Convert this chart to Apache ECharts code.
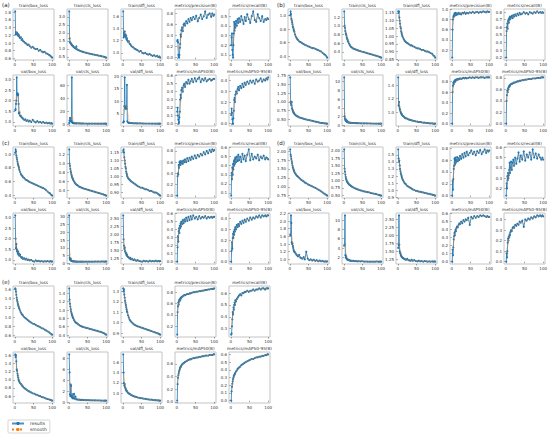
<!DOCTYPE html>
<html>
<head>
<meta charset="utf-8">
<script src="https://cdn.jsdelivr.net/npm/echarts@6/dist/echarts.min.js"></script>
<style>
  html, body { margin: 0; padding: 0; background: #fff; }
  #main { width: 550px; height: 437px; }
</style>
</head>
<body>
<div id="main"></div>
<script>
// epochs that were sampled off the picture (denser at the start)
const EPOCHS = [1,2,3,4,5,6,7,8,9,10,11,12,14,16,18,20,22,25,28,31,34,37,40,44,48,52,56,60,64,68,72,76,80,84,88,92,95,98,100];

const TITLES = ['train/box_loss','train/cls_loss','train/dfl_loss','metrics/precision(B)','metrics/recall(B)',
                'val/box_loss','val/cls_loss','val/dfl_loss','metrics/mAP50(B)','metrics/mAP50-95(B)'];

// ---- (a)
const a_train_box = [1.82,1.22,1.28,1.26,1.24,1.27,1.22,1.20,1.23,1.18,1.20,1.16, 1.13,1.15,1.08,1.10,1.05, 1.03,1.00,0.98,0.95,0.96,0.92, 0.88,0.90,0.86,0.84,0.85,0.80,0.82,0.78,0.76,0.77,0.73,0.72,0.69, 0.67,0.64,0.62];
const a_train_cls = [3.35,1.65,1.42,1.38,1.35,1.32,1.28,1.25,1.22,1.20,1.17,1.15, 1.10,1.06,1.02,1.15,0.97, 0.93,0.90,0.87,0.84,0.82,0.80, 0.77,0.75,0.72,0.70,0.68,0.66,0.64,0.62,0.60,0.58,0.56,0.54,0.52, 0.50,0.47,0.45];
const a_train_dfl = [1.68,1.25,1.33,1.28,1.35,1.27,1.30,1.25,1.28,1.22,1.24,1.20, 1.18,1.19,1.15,1.14,1.12, 1.10,1.09,1.07,1.06,1.05,1.04, 1.02,1.03,1.00,0.99,1.00,0.98,0.97,0.98,0.96,0.95,0.96,0.94,0.95, 0.93,0.94,0.92];
const a_precision = [0.30,0.32,0.28,0.05,0.02,0.00,0.05,0.18,0.25,0.42,0.38,0.50, 0.55,0.48,0.60,0.62,0.58, 0.66,0.62,0.70,0.65,0.72,0.68, 0.74,0.70,0.76,0.66,0.72,0.78,0.70,0.75,0.84,0.72,0.78,0.80,0.74, 0.80,0.76,0.78];
const a_recall = [0.20,0.28,0.32,0.15,0.10,0.07,0.20,0.32,0.44,0.35,0.42,0.38, 0.45,0.40,0.47,0.43,0.48, 0.44,0.50,0.46,0.42,0.49,0.45, 0.52,0.47,0.43,0.50,0.55,0.46,0.44,0.52,0.48,0.45,0.50,0.44,0.47, 0.46,0.48,0.47];
const a_val_box = [1.55,1.60,1.85,2.00,3.10,2.30,2.35,2.25,2.30,1.85,1.40,1.45, 1.30,1.28,1.22,1.20,1.15, 1.10,1.12,1.05,1.08,1.02,1.06, 1.00,1.10,1.02,0.98,1.04,0.98,1.00,0.96,1.00,0.95,0.97,0.94,0.96, 0.93,0.94,0.92];
const a_val_cls = [2,6,10,9,5,4,5,73,3,2.5,2,1.8, 1.6,1.5,1.5,1.4,1.4, 1.3,1.3,1.2,1.2,1.2,1.1, 1.1,1.1,1.0,1.0,1.0,1.0,1.0,0.9,0.9,0.9,0.9,0.9,0.9, 0.9,0.9,0.9];
const a_val_dfl = [1.5,1.8,2.0,8,19.5,7.5,7,7.5,8,7,16.5,2, 1.5,1.4,1.35,1.3,1.3, 1.25,1.2,1.2,1.2,1.18,1.15, 1.15,1.15,1.12,1.12,1.1,1.1,1.1,1.1,1.08,1.08,1.08,1.06,1.06, 1.05,1.05,1.05];
const a_map50 = [0.15,0.20,0.10,0.05,0.00,0.02,0.08,0.15,0.30,0.36,0.32,0.42, 0.45,0.40,0.48,0.50,0.46, 0.52,0.50,0.55,0.50,0.53,0.56, 0.52,0.57,0.53,0.56,0.58,0.52,0.56,0.54,0.57,0.53,0.55,0.56,0.54, 0.55,0.56,0.56];
const a_map5095 = [0.08,0.14,0.10,0.04,0.00,0.00,0.05,0.12,0.22,0.24,0.20,0.27, 0.30,0.28,0.32,0.34,0.31, 0.35,0.33,0.37,0.34,0.38,0.36, 0.39,0.37,0.40,0.38,0.40,0.37,0.41,0.39,0.40,0.42,0.39,0.41,0.40, 0.42,0.41,0.43];
const a_ticks = [['0.6','0.8','1.0','1.2','1.4','1.6','1.8'], ['0.5','1.0','1.5','2.0','2.5','3.0'], ['1.0','1.2','1.4','1.6'],
  ['0.0','0.2','0.4','0.6','0.8'], ['0.1','0.2','0.3','0.4','0.5'], ['1.0','1.5','2.0','2.5','3.0'], ['0','20','40','60'],
  ['5','10','15','20'], ['0.0','0.1','0.2','0.3','0.4','0.5','0.6'], ['0.0','0.1','0.2','0.3','0.4']];

// ---- (b)
const b_train_box = [1.00,1.06,1.02,0.95,0.93,0.90,0.87,0.84,0.82,0.80,0.78,0.76, 0.72,0.69,0.67,0.65,0.64, 0.62,0.61,0.60,0.59,0.58,0.57, 0.56,0.55,0.54,0.53,0.52,0.52,0.51,0.50,0.49,0.48,0.47,0.45,0.43, 0.42,0.40,0.38];
const b_train_cls = [1.33,1.00,0.95,0.88,0.83,0.80,0.77,0.73,0.70,0.68,0.65,0.63, 0.59,0.56,0.53,0.51,0.50, 0.48,0.47,0.46,0.45,0.44,0.43, 0.42,0.41,0.40,0.39,0.38,0.37,0.36,0.35,0.34,0.33,0.32,0.31,0.30, 0.29,0.28,0.27];
const b_train_dfl = [1.16,1.15,1.16,1.12,1.10,1.08,1.06,1.05,1.03,1.02,1.01,1.00, 0.99,0.98,0.97,0.965,0.96, 0.955,0.95,0.945,0.94,0.94,0.935, 0.93,0.925,0.92,0.92,0.915,0.91,0.91,0.905,0.90,0.90,0.895,0.89,0.885, 0.875,0.87,0.86];
const b_precision = [0.05,0.60,0.80,0.85,0.88,0.86,0.92,0.90,0.88,0.93,0.91,0.89, 0.92,0.90,0.93,0.91,0.92, 0.90,0.93,0.92,0.94,0.91,0.93, 0.92,0.94,0.93,0.95,0.93,0.94,0.95,0.93,0.95,0.94,0.96,0.95,0.94, 0.96,0.95,0.95];
const b_recall = [0.20,0.55,0.60,0.65,0.58,0.68,0.70,0.66,0.72,0.70,0.74,0.71, 0.73,0.75,0.72,0.76,0.74, 0.77,0.75,0.78,0.76,0.79,0.77, 0.78,0.80,0.78,0.79,0.77,0.80,0.79,0.78,0.80,0.79,0.81,0.79,0.80, 0.79,0.80,0.79];
const b_val_box = [1.70,1.00,0.95,0.90,1.00,0.82,0.78,0.75,0.72,0.70,0.68,0.66, 0.64,0.62,0.60,0.59,0.58, 0.56,0.55,0.54,0.53,0.52,0.51, 0.50,0.49,0.48,0.47,0.46,0.45,0.44,0.43,0.42,0.41,0.40,0.40,0.39, 0.39,0.38,0.38];
const b_val_cls = [11,2.0,1.5,1.2,1.0,1.3,0.9,0.8,1.0,0.7,0.7,0.65, 0.6,0.6,0.55,0.55,0.52, 0.5,0.5,0.48,0.47,0.46,0.45, 0.44,0.43,0.42,0.42,0.41,0.4,0.4,0.39,0.38,0.38,0.37,0.37,0.36, 0.36,0.35,0.35];
const b_val_dfl = [1.52,1.10,1.15,1.08,1.05,1.03,1.01,0.99,0.98,0.97,0.96,0.95, 0.94,0.93,0.92,0.91,0.905, 0.90,0.89,0.885,0.88,0.875,0.87, 0.865,0.86,0.855,0.85,0.85,0.845,0.84,0.84,0.835,0.835,0.83,0.83,0.83, 0.825,0.825,0.825];
const b_map50 = [0.00,0.60,0.72,0.78,0.75,0.80,0.78,0.82,0.80,0.83,0.82,0.84, 0.83,0.85,0.84,0.85,0.86, 0.85,0.86,0.87,0.86,0.87,0.86, 0.87,0.88,0.87,0.88,0.87,0.88,0.88,0.87,0.88,0.88,0.88,0.87,0.88, 0.88,0.88,0.88];
const b_map5095 = [0.00,0.40,0.50,0.58,0.55,0.62,0.60,0.65,0.64,0.67,0.66,0.68, 0.69,0.70,0.70,0.71,0.72, 0.72,0.73,0.74,0.74,0.75,0.75, 0.76,0.76,0.77,0.77,0.78,0.78,0.78,0.79,0.79,0.79,0.80,0.80,0.80, 0.81,0.81,0.81];
const b_ticks = [['0.4','0.6','0.8','1.0'], ['0.4','0.6','0.8','1.0','1.2'], ['0.85','0.90','0.95','1.00','1.05','1.10','1.15'],
  ['0.0','0.2','0.4','0.6','0.8','1.0'], ['0.2','0.3','0.4','0.5','0.6','0.7','0.8'], ['0.50','0.75','1.00','1.25','1.50','1.75'],
  ['0','2','4','6','8','10'], ['1.0','1.2','1.4'], ['0.0','0.2','0.4','0.6','0.8'], ['0.0','0.2','0.4','0.6','0.8']];

// ---- (c)
const c_train_box = [1.02,1.07,1.04,0.98,0.95,0.92,0.89,0.86,0.84,0.82,0.80,0.77, 0.74,0.71,0.69,0.68,0.66, 0.65,0.63,0.62,0.61,0.60,0.59, 0.58,0.57,0.56,0.55,0.54,0.53,0.52,0.51,0.50,0.49,0.47,0.45,0.43, 0.42,0.40,0.39];
const c_train_cls = [1.32,1.00,0.95,0.88,0.83,0.79,0.75,0.72,0.69,0.67,0.65,0.63, 0.60,0.57,0.55,0.53,0.52, 0.50,0.48,0.47,0.46,0.45,0.44, 0.43,0.42,0.41,0.40,0.39,0.38,0.37,0.36,0.35,0.34,0.33,0.32,0.31, 0.30,0.29,0.28];
const c_train_dfl = [1.16,1.17,1.15,1.12,1.10,1.08,1.06,1.05,1.03,1.02,1.01,1.00, 0.99,0.985,0.98,0.975,0.97, 0.965,0.96,0.955,0.95,0.945,0.94, 0.935,0.93,0.93,0.925,0.92,0.92,0.915,0.91,0.91,0.905,0.90,0.90,0.895, 0.89,0.885,0.88];
const c_precision = [0.00,0.35,0.40,0.38,0.55,0.50,0.60,0.56,0.62,0.55,0.60,0.58, 0.62,0.57,0.63,0.60,0.65, 0.60,0.67,0.62,0.68,0.64,0.70, 0.66,0.72,0.67,0.73,0.70,0.75,0.72,0.78,0.74,0.80,0.76,0.82,0.78, 0.83,0.80,0.82];
const c_recall = [0.07,0.32,0.25,0.38,0.30,0.42,0.36,0.45,0.40,0.47,0.42,0.49, 0.44,0.50,0.45,0.52,0.46, 0.50,0.44,0.53,0.47,0.51,0.45, 0.52,0.58,0.46,0.53,0.47,0.50,0.48,0.52,0.46,0.50,0.48,0.51,0.47, 0.49,0.48,0.47];
const c_val_box = [3.10,2.00,1.55,1.75,1.50,1.40,1.45,1.30,1.38,1.25,1.30,1.20, 1.25,1.15,1.10,1.12,1.05, 1.08,1.02,1.06,1.00,1.02,0.98, 1.00,0.95,0.92,0.98,0.94,0.96,0.93,0.95,0.92,0.94,0.93,0.95,0.92, 0.94,0.93,0.93];
const c_val_cls = [31,3.5,2.5,2.0,3.0,1.8,1.6,1.5,1.4,1.3,1.3,1.2, 1.2,1.1,1.1,1.0,1.0, 1.0,1.0,1.0,1.0,1.0,1.0, 1.0,1.0,1.0,1.0,1.0,1.0,1.0,1.1,1.0,1.1,1.0,1.1,1.1, 1.0,1.1,1.1];
const c_val_dfl = [2.60,1.85,1.65,1.55,1.60,1.48,1.45,1.40,1.42,1.35,1.38,1.32, 1.30,1.28,1.25,1.27,1.22, 1.24,1.20,1.22,1.19,1.18,1.20, 1.17,1.16,1.15,1.18,1.16,1.17,1.15,1.18,1.16,1.17,1.16,1.18,1.16, 1.17,1.16,1.17];
const c_map50 = [0.00,0.18,0.32,0.25,0.38,0.42,0.36,0.45,0.42,0.48,0.44,0.50, 0.47,0.52,0.48,0.53,0.50, 0.55,0.51,0.56,0.52,0.57,0.53, 0.58,0.54,0.56,0.53,0.57,0.54,0.56,0.55,0.57,0.54,0.56,0.55,0.56, 0.55,0.56,0.56];
const c_map5095 = [0.00,0.10,0.18,0.12,0.22,0.26,0.22,0.28,0.25,0.30,0.28,0.32, 0.30,0.34,0.32,0.35,0.33, 0.37,0.35,0.38,0.36,0.39,0.37, 0.40,0.38,0.41,0.39,0.41,0.40,0.42,0.41,0.43,0.41,0.43,0.42,0.43, 0.42,0.43,0.43];
const c_ticks = [['0.4','0.6','0.8','1.0'], ['0.4','0.6','0.8','1.0','1.2'], ['0.90','0.95','1.00','1.05','1.10','1.15'],
  ['0.0','0.2','0.4','0.6','0.8'], ['0.1','0.2','0.3','0.4','0.5','0.6'], ['1.0','1.5','2.0','2.5','3.0'],
  ['0','5','10','15','20','25','30'], ['1.25','1.50','1.75','2.00','2.25','2.50'], ['0.0','0.1','0.2','0.3','0.4','0.5','0.6'], ['0.0','0.1','0.2','0.3','0.4']];

// ---- (d)
const d_train_box = [2.05,1.90,1.85,1.78,1.72,1.66,1.60,1.55,1.52,1.48,1.45,1.42, 1.38,1.35,1.32,1.30,1.28, 1.25,1.22,1.19,1.17,1.15,1.12, 1.10,1.07,1.05,1.03,1.01,0.99,0.97,0.95,0.92,0.90,0.87,0.84,0.81, 0.79,0.77,0.75];
const d_train_cls = [2.05,1.40,1.30,1.20,1.12,1.06,1.02,0.98,0.96,0.94,0.92,0.90, 0.87,0.85,0.83,0.81,0.79, 0.77,0.75,0.73,0.72,0.70,0.69, 0.67,0.66,0.64,0.63,0.62,0.61,0.60,0.58,0.57,0.56,0.55,0.54,0.52, 0.51,0.50,0.49];
const d_train_dfl = [1.58,1.45,1.40,1.42,1.35,1.30,1.27,1.24,1.22,1.20,1.18,1.16, 1.14,1.12,1.10,1.09,1.08, 1.06,1.05,1.04,1.03,1.02,1.01, 1.00,0.99,0.985,0.98,0.975,0.97,0.965,0.96,0.955,0.95,0.945,0.94,0.935, 0.93,0.925,0.92];
const d_precision = [0.00,0.25,0.10,0.28,0.45,0.50,0.62,0.52,0.64,0.55,0.60,0.57, 0.65,0.58,0.63,0.60,0.67, 0.62,0.70,0.64,0.72,0.66,0.74, 0.68,0.72,0.76,0.70,0.74,0.68,0.75,0.72,0.77,0.70,0.74,0.78,0.72, 0.76,0.74,0.76];
const d_recall = [0.13,0.25,0.20,0.32,0.28,0.35,0.30,0.33,0.38,0.45,0.35,0.40, 0.46,0.38,0.45,0.48,0.42, 0.50,0.44,0.49,0.55,0.46,0.52, 0.48,0.56,0.47,0.53,0.50,0.55,0.48,0.58,0.50,0.54,0.49,0.53,0.50, 0.48,0.50,0.48];
const d_val_box = [1.65,1.62,2.15,1.95,1.45,1.40,1.42,1.35,1.30,1.25,1.22,1.20, 1.18,1.15,1.12,1.10,1.08, 1.12,1.05,1.03,1.02,1.06,1.00, 1.20,1.02,0.98,1.00,0.97,0.99,0.96,0.98,0.95,0.97,0.95,0.96,0.94, 0.95,0.94,0.95];
const d_val_cls = [4.5,4.8,11,2.5,2.0,2.3,1.8,1.7,1.6,1.5,1.6,1.45, 1.4,1.35,1.3,1.3,1.25, 1.3,1.2,1.25,1.2,1.15,1.2, 1.15,1.2,1.15,1.1,1.15,1.1,1.12,1.1,1.12,1.1,1.1,1.15,1.1, 1.12,1.1,1.12];
const d_val_dfl = [1.60,1.70,2.62,1.70,1.50,1.45,1.42,1.38,1.35,1.33,1.32,1.30, 1.28,1.27,1.25,1.24,1.23, 1.26,1.22,1.21,1.20,1.23,1.20, 1.22,1.19,1.18,1.20,1.18,1.19,1.17,1.19,1.18,1.17,1.18,1.17,1.18, 1.17,1.18,1.17];
const d_map50 = [0.00,0.15,0.08,0.18,0.28,0.32,0.36,0.33,0.38,0.40,0.38,0.42, 0.44,0.43,0.46,0.48,0.47, 0.50,0.48,0.52,0.50,0.53,0.52, 0.55,0.46,0.56,0.54,0.57,0.55,0.57,0.56,0.58,0.57,0.58,0.57,0.56, 0.57,0.56,0.56];
const d_map5095 = [0.00,0.08,0.04,0.10,0.18,0.22,0.20,0.24,0.23,0.26,0.25,0.28, 0.30,0.29,0.32,0.33,0.32, 0.35,0.34,0.36,0.35,0.38,0.37, 0.39,0.33,0.40,0.39,0.41,0.40,0.42,0.41,0.43,0.42,0.44,0.43,0.44, 0.43,0.44,0.43];
const d_ticks = [['0.75','1.00','1.25','1.50','1.75','2.00'], ['0.50','0.75','1.00','1.25','1.50','1.75','2.00'], ['0.9','1.0','1.1','1.2','1.3','1.4','1.5'],
  ['0.0','0.2','0.4','0.6','0.8'], ['0.1','0.2','0.3','0.4','0.5','0.6'], ['1.0','1.2','1.4','1.6','1.8','2.0','2.2'],
  ['2','4','6','8','10'], ['1.25','1.50','1.75','2.00','2.25','2.50'], ['0.0','0.1','0.2','0.3','0.4','0.5','0.6'], ['0.0','0.1','0.2','0.3','0.4']];

// ---- (e)
const e_train_box = [1.62,1.60,1.55,1.48,1.42,1.37,1.33,1.29,1.26,1.23,1.20,1.18, 1.14,1.10,1.07,1.05,1.03, 1.00,0.98,0.96,0.94,0.92,0.90, 0.88,0.86,0.85,0.83,0.81,0.80,0.78,0.76,0.75,0.73,0.71,0.69,0.67, 0.65,0.63,0.62];
const e_train_cls = [1.52,1.25,1.15,1.08,1.02,0.97,0.93,0.90,0.87,0.84,0.82,0.80, 0.76,0.73,0.71,0.69,0.68, 0.66,0.64,0.62,0.61,0.60,0.59, 0.58,0.57,0.56,0.55,0.54,0.53,0.52,0.51,0.50,0.49,0.48,0.47,0.45, 0.44,0.42,0.41];
const e_train_dfl = [1.33,1.30,1.32,1.27,1.24,1.21,1.19,1.17,1.15,1.13,1.11,1.10, 1.07,1.05,1.03,1.02,1.01, 1.00,0.99,0.98,0.975,0.97,0.965, 0.96,0.955,0.95,0.945,0.94,0.935,0.93,0.925,0.92,0.915,0.91,0.905,0.90, 0.895,0.89,0.885];
const e_precision = [0.05,0.45,0.55,0.62,0.58,0.66,0.64,0.68,0.66,0.70,0.69,0.71, 0.72,0.73,0.74,0.75,0.75, 0.76,0.77,0.77,0.78,0.78,0.79, 0.80,0.80,0.81,0.81,0.82,0.82,0.83,0.83,0.84,0.84,0.85,0.85,0.86, 0.86,0.86,0.87];
const e_recall = [0.25,0.26,0.32,0.38,0.44,0.42,0.48,0.46,0.50,0.52,0.50,0.54, 0.53,0.55,0.56,0.57,0.58, 0.59,0.58,0.60,0.60,0.61,0.61, 0.62,0.61,0.62,0.62,0.63,0.62,0.63,0.63,0.64,0.63,0.64,0.64,0.63, 0.64,0.64,0.64];
const e_val_box = [1.62,1.55,1.60,1.45,1.25,1.22,1.15,1.10,1.05,1.00,0.98,0.95, 0.92,0.90,0.88,0.85,0.83, 0.80,0.78,0.76,0.74,0.72,0.71, 0.69,0.67,0.66,0.64,0.63,0.61,0.60,0.58,0.57,0.56,0.54,0.53,0.52, 0.51,0.50,0.49];
const e_val_cls = [8.8,5.5,1.5,1.2,3.3,3.0,1.2,1.0,0.9,1.5,0.8,0.8, 1.6,0.7,1.1,0.6,0.6, 0.55,0.55,0.5,0.5,0.5,0.48, 0.47,0.46,0.45,0.44,0.43,0.42,0.42,0.41,0.40,0.40,0.39,0.38,0.38, 0.37,0.37,0.36];
const e_val_dfl = [1.75,1.40,1.20,1.15,1.18,1.12,1.10,1.08,1.06,1.05,1.04,1.03, 1.01,1.00,0.99,0.98,0.97, 0.96,0.95,0.94,0.935,0.93,0.92, 0.915,0.91,0.905,0.90,0.895,0.89,0.885,0.88,0.88,0.875,0.87,0.87,0.865, 0.865,0.86,0.86];
const e_map50 = [0.02,0.28,0.38,0.42,0.45,0.48,0.50,0.52,0.54,0.55,0.56,0.57, 0.59,0.60,0.61,0.62,0.63, 0.64,0.65,0.66,0.67,0.67,0.68, 0.69,0.69,0.70,0.70,0.71,0.71,0.72,0.72,0.73,0.73,0.73,0.74,0.74, 0.74,0.75,0.75];
const e_map5095 = [0.00,0.12,0.18,0.22,0.25,0.28,0.30,0.32,0.33,0.34,0.35,0.36, 0.38,0.39,0.41,0.42,0.43, 0.44,0.46,0.47,0.48,0.49,0.50, 0.51,0.52,0.53,0.54,0.54,0.55,0.56,0.56,0.57,0.57,0.58,0.58,0.59, 0.59,0.60,0.60];
const e_ticks = [['0.6','0.8','1.0','1.2','1.4','1.6'], ['0.4','0.6','0.8','1.0','1.2','1.4'], ['0.9','1.0','1.1','1.2','1.3'],
  ['0.2','0.4','0.6','0.8'], ['0.3','0.4','0.5','0.6'], ['0.6','0.8','1.0','1.2','1.4','1.6'],
  ['0','2','4','6','8'], ['1.0','1.2','1.4','1.6'], ['0.0','0.2','0.4','0.6'], ['0.0','0.1','0.2','0.3','0.4','0.5','0.6']];

const X_TICKS = [0, 50, 100];

const panels = [
  {label: '(a)', x: 0,   y: 0,   ticks: a_ticks, data: [a_train_box, a_train_cls, a_train_dfl, a_precision, a_recall, a_val_box, a_val_cls, a_val_dfl, a_map50, a_map5095]},
  {label: '(b)', x: 275, y: 0,   ticks: b_ticks, data: [b_train_box, b_train_cls, b_train_dfl, b_precision, b_recall, b_val_box, b_val_cls, b_val_dfl, b_map50, b_map5095]},
  {label: '(c)', x: 0,   y: 138, ticks: c_ticks, data: [c_train_box, c_train_cls, c_train_dfl, c_precision, c_recall, c_val_box, c_val_cls, c_val_dfl, c_map50, c_map5095]},
  {label: '(d)', x: 275, y: 138, ticks: d_ticks, data: [d_train_box, d_train_cls, d_train_dfl, d_precision, d_recall, d_val_box, d_val_cls, d_val_dfl, d_map50, d_map5095]},
  {label: '(e)', x: 0,   y: 277, ticks: e_ticks, data: [e_train_box, e_train_cls, e_train_dfl, e_precision, e_recall, e_val_box, e_val_cls, e_val_dfl, e_map50, e_map5095]}
];

// gaussian smoothing (sigma in epochs), like the "smooth" curve of the training plots
function smoothed(xs, ys, sigma) {
  return ys.map((_, i) => {
    let s = 0, sw = 0;
    for (let j = 0; j < ys.length; j++) {
      const w = Math.exp(-Math.pow(xs[i] - xs[j], 2) / (2 * sigma * sigma));
      s += w * ys[j];
      sw += w;
    }
    return s / sw;
  });
}

const FONT = 'DejaVu Sans';
const BLUE = '#1f77b4';
const ORANGE = '#ff7f0e';
const BOX_W = 41, BOX_H = 51;

const grids = [], xAxes = [], yAxes = [], series = [], graphics = [];

panels.forEach(p => {
  graphics.push({
    type: 'text', x: p.x + 2, y: p.y + 5,
    style: {text: p.label, fontSize: 5.5, fontFamily: FONT, fill: '#222', align: 'left', verticalAlign: 'middle', textAlign: 'left', textVerticalAlign: 'middle'}
  });
  p.data.forEach((ys, k) => {
    const idx = grids.length;
    const col = k % 5, row = Math.floor(k / 5);
    const gx = p.x + 13 + 54 * col;
    const gy = p.y + 9 + 66 * row;
    grids.push({left: gx, top: gy, width: BOX_W, height: BOX_H, show: true, borderColor: '#c4c4c4', borderWidth: 1, containLabel: false});

    const lo = Math.min(...ys), hi = Math.max(...ys);
    const pad = (hi - lo) * 0.05;
    const ymin = lo - pad, ymax = hi + pad;
    const tickStr = p.ticks[k];
    const dec = (tickStr[0].split('.')[1] || '').length;
    const yt = tickStr.map(Number).filter(v => v >= ymin && v <= ymax);

    xAxes.push({
      type: 'value', gridIndex: idx, min: -4.95, max: 104.95,
      axisLine: {show: false},
      splitLine: {show: false},
      axisTick: {show: true, length: 1.5, lineStyle: {color: '#444', width: 0.5}, customValues: X_TICKS},
      axisLabel: {fontSize: 4, color: '#333', fontFamily: FONT, margin: 2, customValues: X_TICKS}
    });
    yAxes.push({
      type: 'value', gridIndex: idx, min: ymin, max: ymax,
      axisLine: {show: false},
      splitLine: {show: false},
      axisTick: {show: true, length: 1.5, lineStyle: {color: '#444', width: 0.5}, customValues: yt},
      axisLabel: {fontSize: 4, color: '#333', fontFamily: FONT, margin: 2, customValues: yt,
                  formatter: v => Number(v).toFixed(dec)}
    });

    graphics.push({
      type: 'text', x: gx + BOX_W / 2, y: gy - 4,
      style: {text: TITLES[k], fontSize: 4.2, fontFamily: FONT, fill: '#333', align: 'center', verticalAlign: 'middle', textAlign: 'center', textVerticalAlign: 'middle'}
    });

    const sm = smoothed(EPOCHS, ys, 3);
    series.push({
      name: 'results', type: 'line', xAxisIndex: idx, yAxisIndex: idx,
      data: EPOCHS.map((x, i) => [x, ys[i]]),
      symbol: 'circle', symbolSize: 2.1, showSymbol: true,
      lineStyle: {color: BLUE, width: 1, opacity: 0.8},
      itemStyle: {color: BLUE},
      emphasis: {disabled: true}, z: 2
    });
    series.push({
      name: 'smooth', type: 'line', xAxisIndex: idx, yAxisIndex: idx,
      data: EPOCHS.map((x, i) => [x, sm[i]]),
      showSymbol: false, symbol: 'none',
      lineStyle: {color: ORANGE, width: 0.7, type: 'dotted'},
      itemStyle: {color: ORANGE},
      emphasis: {disabled: true}, z: 3
    });
  });
});

const chart = echarts.init(document.getElementById('main'), null, {renderer: 'svg'});
chart.setOption({
  animation: false,
  backgroundColor: '#fff',
  grid: grids,
  xAxis: xAxes,
  yAxis: yAxes,
  series: series,
  graphic: graphics,
  legend: {
    data: ['results', 'smooth'],
    orient: 'vertical', left: 8, top: 420,
    itemWidth: 12, itemHeight: 4, itemGap: 1,
    padding: [1, 3, 1, 3],
    borderColor: '#cccccc', borderWidth: 0.8, borderRadius: 1,
    textStyle: {fontSize: 4.5, color: '#333', fontFamily: FONT, padding: [0, 0, 0, 1]},
    selectedMode: false
  }
});
</script>
</body>
</html>
